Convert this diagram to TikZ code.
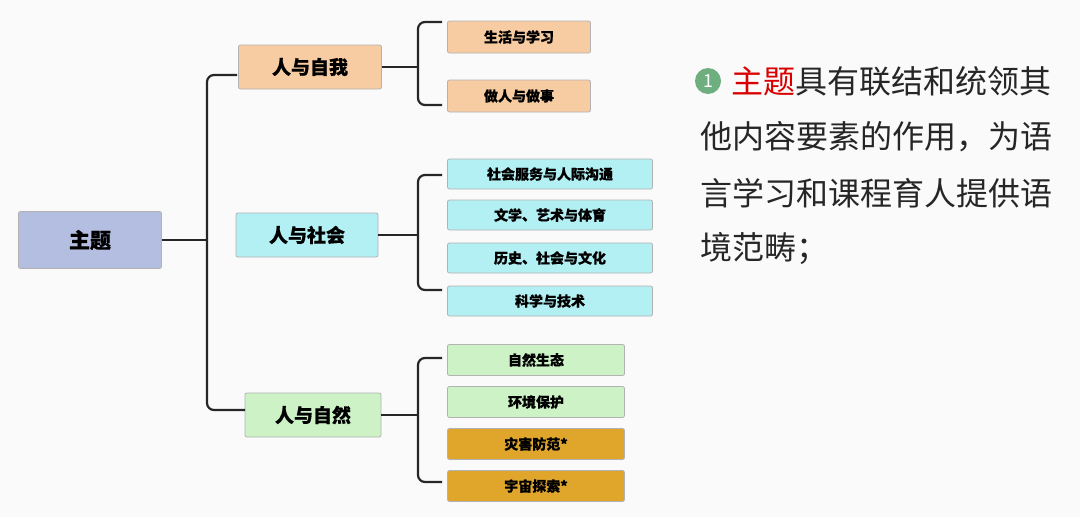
\documentclass[tikz,border=0pt]{standalone}
\usepackage{fontspec}
\setmainfont{Noto Sans CJK SC}[FakeBold=0.6]
\newfontfamily\txtfont{Noto Sans CJK SC}
\begin{document}
\begin{tikzpicture}[x=1pt,y=-1pt,
 box/.style={draw=gray!60,line width=0.8pt,rounded corners=2pt,inner sep=0pt,anchor=center,font=\bfseries},
 lv/.style={box,font=\bfseries\fontsize{19}{22}\selectfont},
 lf/.style={box,font=\bfseries\fontsize{14}{16}\selectfont},
 br/.style={line width=2.2pt,black!85,rounded corners=7pt}]
\fill[white!96!gray] (0,0) rectangle (1080,517);
\useasboundingbox (0,0) rectangle (1080,517);
\definecolor{peach}{HTML}{F8CCA2}\definecolor{cyanb}{HTML}{B2F0F4}
\definecolor{greenb}{HTML}{CCF2C6}\definecolor{gold}{HTML}{E0A62C}\definecolor{lav}{HTML}{B4BEE0}
\node[box,fill=lav,minimum width=143,minimum height=57,font=\bfseries\fontsize{21}{24}\selectfont] (root) at (90,240) {主题};
\node[lv,fill=peach,minimum width=143,minimum height=44] (a) at (310,67) {人与自我};
\node[lv,fill=cyanb,minimum width=142,minimum height=44] (b) at (307,235) {人与社会};
\node[lv,fill=greenb,minimum width=136,minimum height=44] (c) at (313,415) {人与自然};
\node[lf,fill=peach,minimum width=143,minimum height=32] (a1) at (519,37) {生活与学习};
\node[lf,fill=peach,minimum width=143,minimum height=32] (a2) at (519,96) {做人与做事};
\foreach \n/\y/\t in {b1/174/社会服务与人际沟通,b2/215/文学、艺术与体育,b3/258/历史、社会与文化,b4/301/科学与技术}
  \node[lf,fill=cyanb,minimum width=205,minimum height=30] (\n) at (550,\y) {\t};
\node[lf,fill=greenb,minimum width=177,minimum height=31] (c1) at (536,360) {自然生态};
\node[lf,fill=greenb,minimum width=177,minimum height=31] (c2) at (536,402) {环境保护};
\node[lf,fill=gold,minimum width=177,minimum height=31] (c3) at (536,444) {灾害防范*};
\node[lf,fill=gold,minimum width=177,minimum height=31] (c4) at (536,486) {宇宙探索*};
% main bracket
\coordinate (m1) at (237,75); \coordinate (m2) at (245,410);
\draw[br] (m1) -- (207,75) -- (207,410) -- (m2);
\draw[br] (root.east) -- (207,240);
% sub brackets
\draw[br] (442,22) -- (418,22) -- (418,105) -- (442,105);
\draw[br] (a.east) -- (418,67);
\draw[br] (442,175) -- (418,175) -- (418,290) -- (442,290);
\draw[br] (b.east) -- (418,235);
\draw[br] (442,358) -- (418,358) -- (418,482) -- (442,482);
\draw[br] (c.east) -- (418,415);
% text
\definecolor{cg}{HTML}{6FAE7F}
\node[circle,fill=cg,minimum size=26,inner sep=0pt,text=white,font=\txtfont\fontsize{18}{18}\selectfont] (n1) at (708,81) {1};
\begin{scope}[every node/.style={anchor=west,inner sep=0pt,font=\txtfont\fontsize{32}{34}\selectfont,text=black!85}]
\node (t1) at (731,81) {\textcolor{red!85!black}{主题}具有联结和统领其};
\node (t2) at (700,137) {他内容要素的作用，为语};
\node (t3) at (700,193) {言学习和课程育人提供语};
\node (t4) at (700,249) {境范畴；};
\end{scope}
\end{tikzpicture}
\end{document}
